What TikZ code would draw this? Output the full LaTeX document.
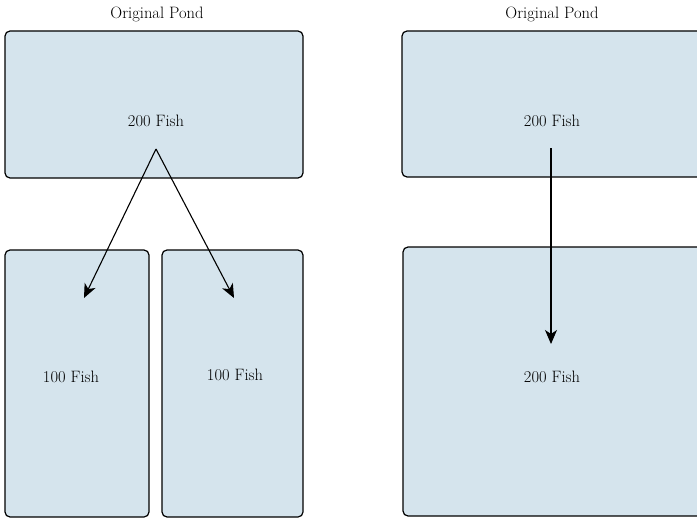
\documentclass[tikz,border=0pt]{standalone}
\usetikzlibrary{arrows.meta}
\definecolor{pond}{RGB}{213,228,237}
\begin{document}
\begin{tikzpicture}[x=1pt,y=-1pt,
  pondbox/.style={draw=black,fill=pond,line width=1.2pt,rounded corners=5pt},
  lbl/.style={font=\fontsize{16.5}{19}\selectfont,text=black,inner sep=0pt},
  flow/.style={line width=1.1pt,-{Stealth[length=14pt,width=12pt,inset=4pt]}}]
\useasboundingbox (0,0) rectangle (697,519);
% boxes
\draw[pondbox] (5,31) rectangle (303,178);
\draw[pondbox] (5,250) rectangle (149,517);
\draw[pondbox] (162,250) rectangle (303,517);
\draw[pondbox] (402,31) rectangle (702,177);
\draw[pondbox] (403,247) rectangle (702,516);
% labels
\node[lbl] (t1) at (157,14) {Original Pond};
\node[lbl] (t2) at (552,14) {Original Pond};
\node[lbl] (a) at (156,121) {200 Fish};
\node[lbl] (b1) at (71,377) {100 Fish};
\node[lbl] (b2) at (235,375) {100 Fish};
\node[lbl] (c) at (552,121) {200 Fish};
\node[lbl] (d) at (552,377) {200 Fish};
% arrows
\coordinate (apex) at (156,149);
\coordinate (e1) at (84,298);
\coordinate (e2) at (234,298);
\coordinate (rs) at (551,148);
\coordinate (re) at (551,344);
\draw[flow] (apex) -- (e1);
\draw[flow] (apex) -- (e2);
\draw[flow] (rs) -- (re);
\end{tikzpicture}
\end{document}
